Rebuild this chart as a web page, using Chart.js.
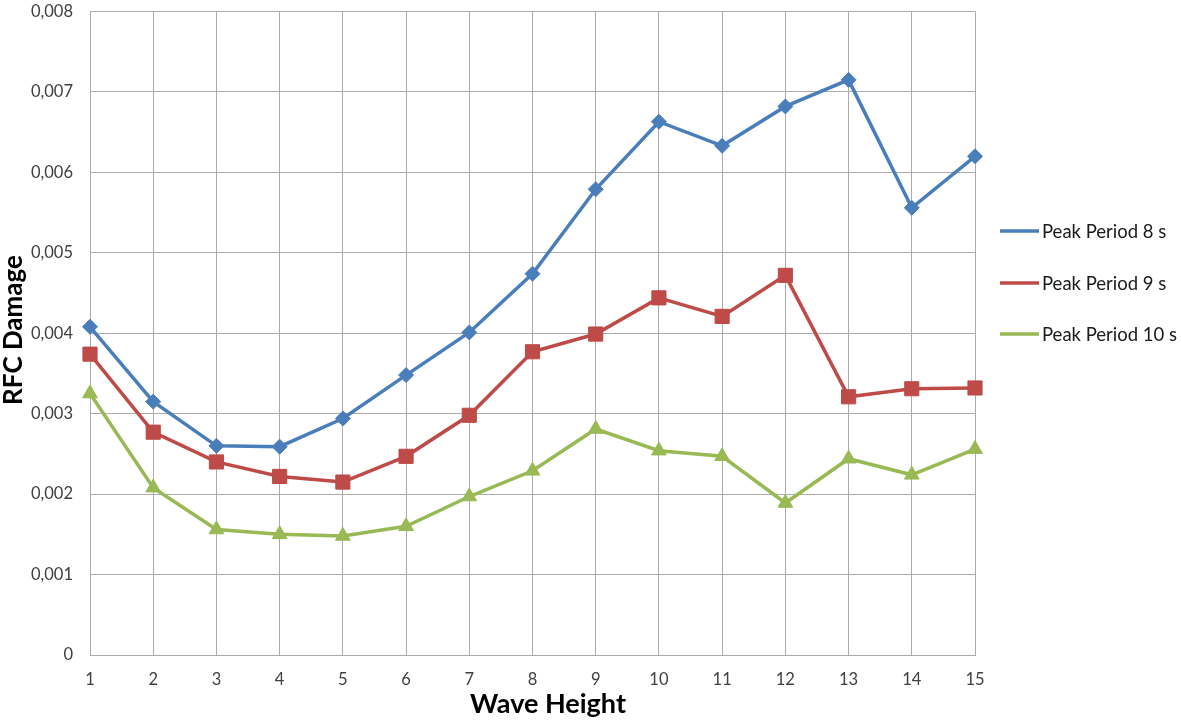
<!DOCTYPE html>
<html>
<head>
<meta charset="utf-8">
<title>RFC Damage vs Wave Height</title>
<script src="https://cdn.jsdelivr.net/npm/chart.js@4/dist/chart.umd.min.js"></script>
<style>
  html, body { margin: 0; padding: 0; background: #ffffff; }
  #wrap { position: relative; width: 1181px; height: 720px; }
</style>
</head>
<body>
<div id="wrap"><canvas id="chart" width="1181" height="720"></canvas></div>
<script>
// Wave height categories
const waveHeights = ['1','2','3','4','5','6','7','8','9','10','11','12','13','14','15'];

// RFC damage per peak period
const period8s  = [0.00408, 0.00315, 0.00260, 0.00259, 0.00294, 0.00348, 0.00401, 0.00474, 0.00579, 0.00663, 0.00633, 0.00682, 0.00715, 0.00556, 0.00620];
const period9s  = [0.00374, 0.00277, 0.00240, 0.00222, 0.00215, 0.00247, 0.00298, 0.00377, 0.00399, 0.00444, 0.00421, 0.00472, 0.00321, 0.00331, 0.00332];
const period10s = [0.00325, 0.00208, 0.00156, 0.00150, 0.00148, 0.00160, 0.00197, 0.00229, 0.00281, 0.00254, 0.00247, 0.00189, 0.00244, 0.00224, 0.00256];

const seriesNames = ['Peak Period 8 s', 'Peak Period 9 s', 'Peak Period 10 s'];
const xTitle = 'Wave Height';
const yTitle = 'RFC Damage';

// Y axis range
const yMin = 0, yMax = 0.008, yStep = 0.001;

const FONT = 'Lato, "Open Sans", "Liberation Sans", sans-serif';
const GRID = '#ababab';

// Axis titles, placed relative to the canvas
const axisTitles = {
  id: 'axisTitles',
  afterDraw(chart) {
    const ctx = chart.ctx;
    ctx.save();
    ctx.fillStyle = '#000000';
    ctx.font = 'bold 27px ' + FONT;
    ctx.textAlign = 'center';
    ctx.textBaseline = 'alphabetic';
    ctx.fillText(xTitle, 548, 713);
    ctx.translate(22, 330);
    ctx.rotate(-Math.PI / 2);
    ctx.font = 'bold 26px ' + FONT;
    ctx.fillText(yTitle, 0, 0);
    ctx.restore();
  }
};

// Legend at the right: line with marker, then the label
const sideLegend = {
  id: 'sideLegend',
  afterDraw(chart) {
    const ctx = chart.ctx;
    const rows = [231, 283, 334];
    ctx.save();
    chart.data.datasets.forEach((ds, i) => {
      const y = rows[i];
      ctx.strokeStyle = ds.borderColor;
      ctx.lineWidth = 3.5;
      ctx.beginPath();
      ctx.moveTo(1000, y);
      ctx.lineTo(1039, y);
      ctx.stroke();
      ctx.fillStyle = ds.pointBackgroundColor;
      ctx.strokeStyle = ds.pointBorderColor;
      ctx.lineWidth = 1;
      Chart.helpers.drawPoint(ctx, {
        pointStyle: ds.pointStyle,
        rotation: 0,
        borderWidth: 1
      }, 1019.5, y, ds.pointRadius * 0.75);
      ctx.fillStyle = '#1a1a1a';
      ctx.font = '18.5px ' + FONT;
      ctx.textAlign = 'left';
      ctx.textBaseline = 'middle';
      ctx.fillText(ds.label, 1042, y + 1);
    });
    ctx.restore();
  }
};

function series(label, data, color, style, radius) {
  return {
    label, data,
    borderColor: color,
    backgroundColor: color,
    pointBackgroundColor: color,
    pointBorderColor: color,
    pointBorderWidth: 1,
    pointStyle: style,
    pointRadius: radius,
    pointHoverRadius: radius,
    borderWidth: 3.5,
    tension: 0,
    fill: false
  };
}

new Chart(document.getElementById('chart'), {
  type: 'line',
  data: {
    labels: waveHeights,
    datasets: [
      series(seriesNames[0], period8s,  '#4A7EBB', 'rectRot', 7.5),
      series(seriesNames[1], period9s,  '#BE4B48', 'rect', 10),
      series(seriesNames[2], period10s, '#98B954', 'triangle', 8.5)
    ]
  },
  options: {
    responsive: false,
    animation: false,
    layout: { padding: { top: 11.5, right: 206, left: 0, bottom: 0 } },
    plugins: {
      legend: { display: false },
      tooltip: { enabled: false }
    },
    scales: {
      x: {
        type: 'category',
        offset: false,
        grid: { color: GRID, lineWidth: 1, drawTicks: false },
        border: { color: GRID, width: 1 },
        ticks: { color: '#404040', font: { family: FONT, size: 16.5 }, padding: 15, maxRotation: 0, autoSkip: false },
        afterFit(scale) { scale.height = 65; }
      },
      y: {
        min: yMin, max: yMax,
        grid: { color: GRID, lineWidth: 1, drawTicks: false },
        border: { color: GRID, width: 1 },
        ticks: {
          stepSize: yStep,
          color: '#404040',
          font: { family: FONT, size: 16.5 },
          padding: 17,
          callback(v) {
            const r = Math.round(v / yStep);
            return r === 0 ? '0' : (r * yStep).toFixed(3).replace('.', ',');
          }
        },
        afterFit(scale) {
          scale.width = 90;
          scale.paddingTop = 0;
          scale.paddingBottom = 0;
        }
      }
    }
  },
  plugins: [sideLegend, axisTitles]
});
</script>
</body>
</html>
